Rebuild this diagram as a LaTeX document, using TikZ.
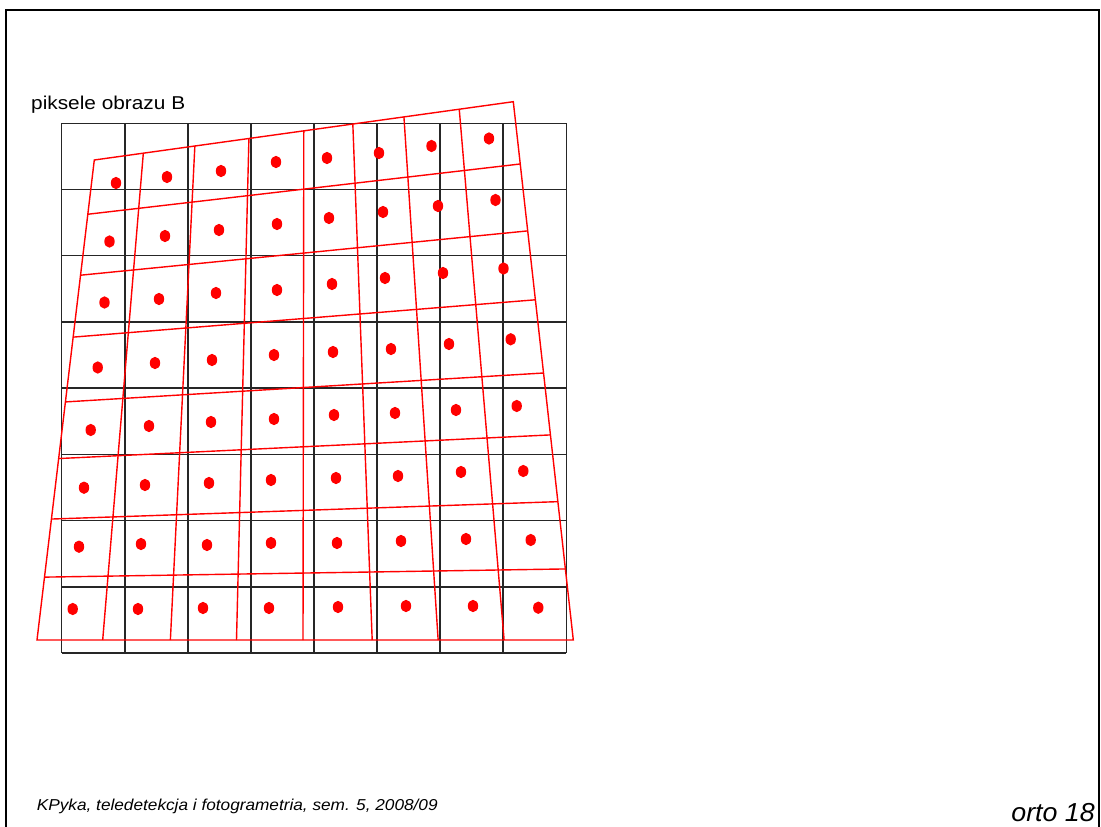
\documentclass[tikz,border=0pt]{standalone}
\usepackage{fontspec}
\setmainfont{Liberation Sans}
\usetikzlibrary{calc}
\tikzset{
  gridline/.style={draw=black!85, line width=1.5pt},
  redline/.style={draw=red, line width=1.4pt},
  reddot/.style={fill=red, draw=none},
  frameline/.style={draw=black, line width=2.6pt},
}
\begin{document}
\begin{tikzpicture}[x=1pt,y=-1pt]
\useasboundingbox (0,0) rectangle (1101,827);
\clip (0,0) rectangle (1101,827);
\fill[white] (0,0) rectangle (1101,827);
\draw[frameline] (6,10) rectangle (1099,840);
% black pixel grid
\foreach \i in {0,...,8} {
  \draw[gridline] ({61.7+\i*63.075},123.3) -- ({61.7+\i*63.075},653);
  \draw[gridline] (61.7,{123.3+\i*66.2125}) -- (566.3,{123.3+\i*66.2125});
}
% red transformed grid
\coordinate (TL) at (94.3,160);
\coordinate (TR) at (513.3,101.7);
\coordinate (BL) at (37,640);
\coordinate (BR) at (573.3,640);
\foreach \a/\b [count=\i] in {0.117/0.1225,0.240/0.2487,0.369/0.372,0.500/0.496,0.617/0.625,0.739/0.748,0.871/0.871} {
  \coordinate (t\i) at ($(TL)!\a!(TR)$);
  \coordinate (b\i) at ($(BL)!\b!(BR)$);
  \draw[redline] (t\i) -- (b\i);
}
\foreach \a/\b [count=\i] in {0.113/0.1157,0.240/0.240,0.369/0.368,0.504/0.504,0.622/0.619,0.748/0.743,0.869/0.868} {
  \coordinate (l\i) at ($(TL)!\a!(BL)$);
  \coordinate (r\i) at ($(TR)!\b!(BR)$);
  \draw[redline] (l\i) -- (r\i);
}
\draw[redline] (TL) -- (TR) -- (BR) -- (BL) -- cycle;
% dots
\foreach \p in {
 (116,183),(167,177),(221,171),(276,162),(327,158),(379,153),(431.5,146),(489,138.5),
 (109.5,241.5),(165,236),(219,230),(277,224),(329,218),(383,212),(438,206),(495.5,200),
 (104.5,302.5),(159,299),(216,293),(277,290),(332,284),(385,278),(443,273),(503.5,268.5),
 (97.7,367.5),(155,363),(212,360),(274,355),(333,352),(391,349),(449,344),(510.7,339.3),
 (90.7,430),(149,426),(211,422),(274,419),(334,415),(395,413),(456,410),(516.7,406),
 (84,487.7),(145,485),(209,483),(271,480),(336,478),(398,476),(461,472),(523.3,471),
 (79,546.7),(141,544),(207,545),(271,543),(337,543),(401,541),(466,539),(530.7,540),
 (72.7,609),(138,609),(203,608),(269,608),(338,607),(406,606),(473,606),(538.3,607.7)} {
  \fill[reddot] \p ellipse [x radius=5.2pt, y radius=6.2pt];
}
% texts
\node[anchor=base west, inner sep=0pt] (title) at (31,109)
  {\scalebox{1.12}[1]{\fontsize{18.6}{22}\selectfont piksele obrazu B}};
\node[anchor=base west, inner sep=0pt] (footer) at (36.7,810.7)
  {\scalebox{1.09}[1]{\fontsize{15.8}{19}\selectfont\itshape KPyka, teledetekcja i fotogrametria, sem. 5, 2008/09}};
\node[anchor=base east, inner sep=0pt] (pagenum) at (1095,821)
  {\scalebox{1.03}[1]{\fontsize{26}{30}\selectfont\itshape orto 18}};
\end{tikzpicture}
\end{document}
